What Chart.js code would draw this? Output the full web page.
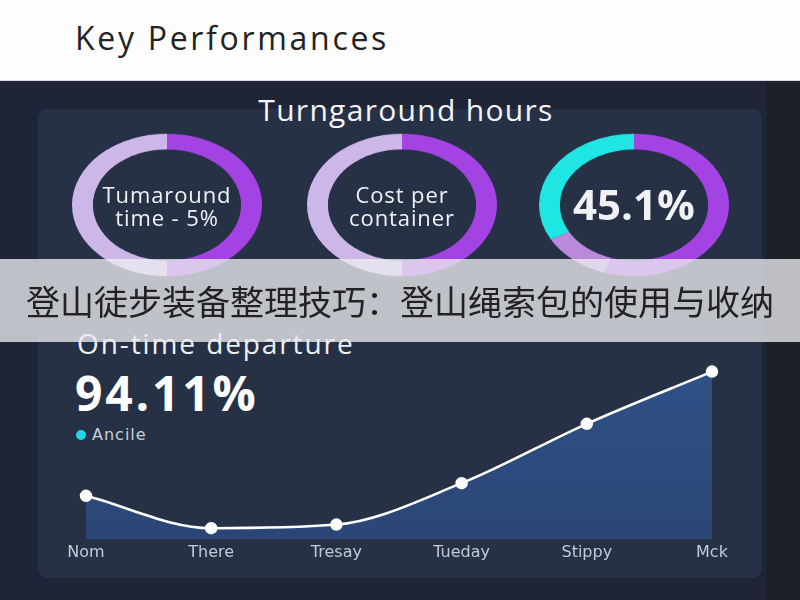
<!DOCTYPE html>
<html lang="en">
<head>
  <meta charset="UTF-8" />
  <title>Key Performances</title>
  <script src="https://cdn.jsdelivr.net/npm/chart.js"></script>
  <style>
    html, body { margin: 0; padding: 0; }
    body {
      width: 800px; height: 600px; overflow: hidden; position: relative;
      background: #1f2536; font-family: "Open Sans", "Noto Sans", sans-serif;
    }
    .abs { position: absolute; }
    #header { left: 0; top: 0; width: 800px; height: 80px; background: #fdfdfd; border-bottom: 1px solid #d8dadf; }
    #header h1 { position: absolute; left: 75px; top: 16px; margin: 0; font-weight: 400; font-size: 32px; letter-spacing: 2.7px; color: #232323; }
    #rightStrip { left: 766px; top: 81px; width: 34px; height: 519px; background: #1c2029; }
    #panel { left: 38px; top: 109px; width: 724px; height: 469px; background: #263146; border-radius: 9px; }
    #ringTitle { left: 0; width: 812px; top: 89px; text-align: center; color: #f4f5f8; font-size: 30px; letter-spacing: 1.3px; }
    .ring { width: 190px; height: 190px; transform: scaleY(0.75); transform-origin: center center; }
    .ringText { width: 190px; text-align: center; color: #f2f2f6; font-size: 22px; line-height: 23px; letter-spacing: 0.9px; }
    #bigRing { font-size: 42px; font-weight: 700; line-height: 46px; letter-spacing: 0; }
    #banner { left: 0; top: 259px; width: 800px; height: 83px; background: rgba(236,236,240,0.78);
      font-family: "Noto Sans CJK SC", sans-serif; font-size: 34px; color: #222; text-align: center; line-height: 83px; }
    #lineTitle { left: 77px; top: 324px; color: #eef0f4; font-size: 28px; letter-spacing: 1.9px; }
    #lineValue { left: 75px; top: 360px; color: #fff; font-size: 48px; font-weight: 700; letter-spacing: 2.8px; }
    #legend { left: 76px; top: 425px; color: #c9cfd9; font-size: 16px; font-family: "DejaVu Sans", sans-serif; letter-spacing: 1px; }
    #legend span { display: inline-block; width: 10px; height: 10px; border-radius: 50%; background: #22d3ee; margin-right: 6px; }
  </style>
</head>
<body>
  <div id="header" class="abs"><h1>Key Performances</h1></div>
  <div id="rightStrip" class="abs"></div>
  <div id="panel" class="abs"></div>

  <div id="ring1Box" class="abs ring"><canvas id="ring1" width="190" height="190"></canvas></div>
  <div id="ring2Box" class="abs ring"><canvas id="ring2" width="190" height="190"></canvas></div>
  <div id="ring3Box" class="abs ring"><canvas id="ring3" width="190" height="190"></canvas></div>
  <div id="ringTitle" class="abs">Turngaround hours</div>
  <div id="ring1Text" class="abs ringText">Tumaround<br>time - 5%</div>
  <div id="ring2Text" class="abs ringText">Cost per<br>container</div>
  <div id="ring3Text" class="abs ringText"><span id="bigRing">45.1%</span></div>

  <div id="lineTitle" class="abs">On-time departure</div>
  <div id="lineValue" class="abs">94.11%</div>
  <div id="legend" class="abs"><span></span><b id="legendLabel" style="font-weight:400"></b></div>
  <canvas id="lineChart" class="abs" width="680" height="223" style="left:60px; top:340px;"></canvas>

  <div id="banner" class="abs">登山徒步装备整理技巧：登山绳索包的使用与收纳</div>

  <script>
    // ring data (share of the full circle, clockwise from 12 o'clock)
    const ring1Values = [50, 50];
    const ring2Values = [50, 50];
    const ring3Values = [55, 12, 33];
    const ringCenters = [[167, 205], [402, 205], [634, 205]];

    // line chart data
    const days = ['Nom', 'There', 'Tresay', 'Tueday', 'Stippy', 'Mck'];
    const seriesName = 'Ancile';
    const departures = [24, 6, 8, 31, 64, 93];

    const PURPLE = '#a443e4';
    const LAVENDER = '#cdb6e8';

    ringCenters.forEach((c, i) => {
      const box = document.getElementById('ring' + (i + 1) + 'Box');
      box.style.left = (c[0] - 95) + 'px';
      box.style.top = (c[1] - 95) + 'px';
      const txt = document.getElementById('ring' + (i + 1) + 'Text');
      txt.style.left = (c[0] - 95) + 'px';
      txt.style.top = (c[1] - (i === 2 ? 24 : 22)) + 'px';
    });

    function makeRing(id, values, colors) {
      return new Chart(id, {
        type: 'doughnut',
        data: { datasets: [{ data: values, backgroundColor: colors, borderWidth: 0 }] },
        options: {
          responsive: false, animation: false, cutout: '78%',
          plugins: { legend: { display: false }, tooltip: { enabled: false } }
        }
      });
    }

    makeRing('ring1', ring1Values, [PURPLE, LAVENDER]);
    makeRing('ring2', ring2Values, [PURPLE, LAVENDER]);
    makeRing('ring3', ring3Values, [PURPLE, '#b98ad9', '#1fe6e3']);

    document.getElementById('legendLabel').textContent = seriesName;

    const ctx = document.getElementById('lineChart').getContext('2d');
    const fillGrad = ctx.createLinearGradient(0, 30, 0, 200);
    fillGrad.addColorStop(0, '#2f5186');
    fillGrad.addColorStop(1, '#2b4675');

    new Chart(ctx, {
      type: 'line',
      data: {
        labels: days,
        datasets: [{
          label: seriesName,
          data: departures,
          borderColor: '#ffffff',
          borderWidth: 2.5,
          backgroundColor: fillGrad,
          fill: 'origin',
          cubicInterpolationMode: 'monotone',
          pointRadius: 5,
          pointBackgroundColor: '#ffffff',
          pointBorderColor: '#ffffff',
          clip: false
        }]
      },
      options: {
        responsive: false, animation: false,
        layout: { padding: { left: 26, right: 28, top: 19, bottom: 0 } },
        plugins: { legend: { display: false }, tooltip: { enabled: false } },
        scales: {
          x: {
            grid: { display: false, drawTicks: false },
            border: { display: false },
            afterFit: s => { s.height = 24; },
            ticks: { color: '#c3cad5', padding: 4, font: { size: 16, family: 'DejaVu Sans' }, maxRotation: 0 }
          },
          y: { display: false, min: 0, max: 100 }
        }
      }
    });
  </script>
</body>
</html>
